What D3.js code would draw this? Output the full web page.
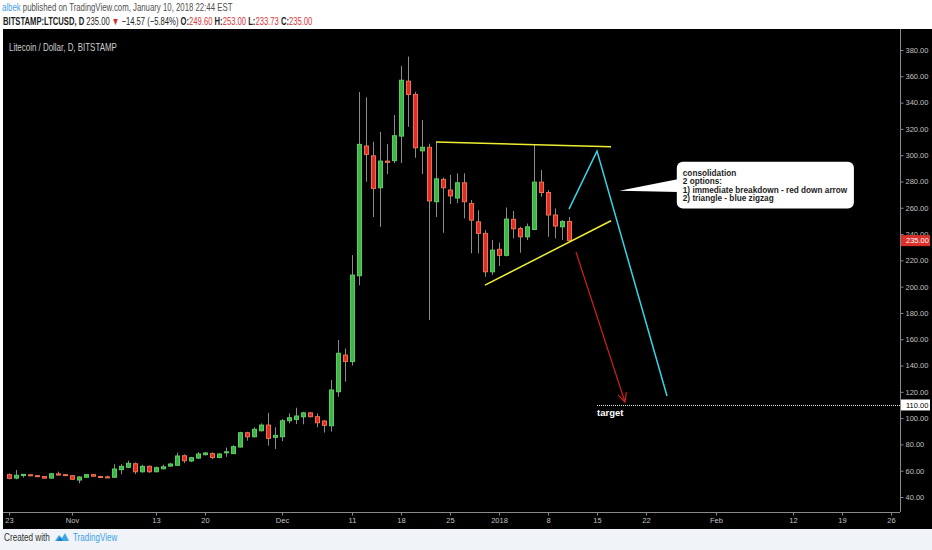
<!DOCTYPE html>
<html>
<head>
<meta charset="utf-8">
<script src="https://cdn.jsdelivr.net/npm/d3@7"></script>
<style>
body { margin: 0; background: #fff; }
svg { display: block; font-family: "Liberation Sans", Arial, sans-serif; }
</style>
</head>
<body>
<svg id="chart"></svg>
<script>
// daily candles, first one is 2017-10-23 (UTC days)
const startDate = "2017-10-23";
const opens = [
	57.0, 54.4, 56.3, 56.9, 56.2, 55.6, 54.4, 57.6, 57.0, 56.2,
	52.9, 55.0, 57.0, 55.6, 55.3, 55.0, 60.8, 62.6, 65.3, 59.2,
	63.3, 59.2, 61.5, 63.5, 64.1, 71.4, 67.4, 69.6, 72.2, 73.0,
	70.0, 73.6, 73.0, 78.0, 88.9, 85.8, 90.4, 94.7, 85.4, 85.8,
	98.0, 99.0, 101.0, 104.0, 101.1, 97.8, 94.2, 120.1, 148.0, 143.0,
	208.3, 307.0, 299.5, 275.2, 295.5, 295.8, 314.5, 356.3, 346.2, 303.3,
	306.0, 264.6, 281.6, 273.5, 267.4, 279.0, 263.3, 249.3, 240.5, 211.3,
	228.4, 223.8, 251.2, 244.2, 237.9, 243.5, 279.5, 271.6, 254.5, 245.5,
	249.6
];
const highs = [
	58.0, 60.5, 57.6, 57.2, 56.6, 56.0, 58.2, 59.3, 57.4, 56.6,
	56.0, 57.5, 57.4, 55.9, 56.3, 65.0, 65.0, 67.6, 66.2, 64.5,
	64.0, 63.2, 64.6, 66.0, 73.7, 72.4, 70.5, 74.2, 74.3, 74.0,
	73.4, 77.6, 79.3, 89.6, 89.6, 93.0, 96.0, 104.0, 93.0, 99.3,
	103.6, 107.9, 104.8, 104.6, 103.6, 98.5, 129.0, 159.4, 153.0, 224.0,
	348.0, 344.0, 310.2, 317.8, 308.4, 330.5, 368.0, 375.0, 348.2, 326.7,
	308.7, 310.0, 283.0, 285.0, 286.2, 286.2, 265.9, 258.2, 243.0, 235.4,
	233.4, 260.2, 257.5, 245.5, 248.0, 307.7, 288.7, 273.5, 259.5, 250.6,
	253.0
];
const lows = [
	53.5, 53.5, 54.8, 55.9, 55.3, 54.0, 54.0, 56.4, 56.0, 53.2,
	50.4, 54.6, 55.4, 54.7, 54.5, 54.8, 57.3, 62.0, 57.4, 58.5,
	58.4, 58.8, 61.0, 63.0, 63.8, 65.8, 66.5, 69.0, 71.5, 68.8,
	69.5, 70.6, 72.6, 77.8, 82.8, 85.3, 89.8, 79.0, 76.5, 82.5,
	96.0, 95.5, 95.3, 100.5, 93.0, 89.0, 89.7, 116.3, 127.7, 140.0,
	201.0, 279.8, 253.0, 245.5, 285.5, 294.0, 294.0, 321.6, 298.0, 285.6,
	174.6, 253.0, 241.0, 262.8, 263.6, 251.9, 225.4, 225.4, 207.5, 208.8,
	215.7, 223.0, 236.7, 225.8, 235.4, 243.0, 268.4, 237.9, 236.7, 235.4,
	233.73
];
const closes = [
	54.2, 56.5, 57.2, 56.2, 55.6, 54.3, 57.7, 56.7, 56.3, 53.5,
	55.2, 57.0, 55.8, 55.0, 54.9, 61.3, 63.3, 65.6, 59.2, 63.3,
	59.2, 62.3, 63.0, 65.1, 71.2, 67.6, 69.9, 72.7, 73.5, 70.0,
	72.7, 74.4, 78.3, 88.9, 85.8, 91.5, 94.7, 84.6, 86.9, 98.0,
	100.3, 101.6, 104.0, 101.1, 96.5, 94.5, 121.4, 149.3, 143.0, 208.8,
	308.2, 300.6, 274.7, 295.5, 294.5, 314.8, 357.0, 346.2, 305.6, 306.0,
	265.2, 282.0, 275.2, 269.0, 279.0, 264.6, 250.6, 240.5, 211.3, 227.8,
	223.8, 251.4, 244.0, 237.9, 245.5, 279.5, 271.6, 254.5, 246.1, 249.6,
	235.0
];

const priceTicks = d3.range(40, 381, 20);
const dateTicks = ["2017-10-23", "2017-11-01", "2017-11-13", "2017-11-20", "2017-12-01", "2017-12-11",
	"2017-12-18", "2017-12-25", "2018-01-01", "2018-01-08", "2018-01-15", "2018-01-22",
	"2018-02-01", "2018-02-12", "2018-02-19", "2018-02-26"];
const dateTickLabels = ["23", "Nov", "13", "20", "Dec", "11", "18", "25", "2018", "8", "15", "22", "Feb", "12", "19", "26"];
const dateDomain = ["2017-10-23", "2018-02-26"];
const priceDomain = [40, 380];

const lastPrice = 235.00;
const targetPrice = 110.00;

// drawings: [days after 2018-01-01, price]
const triangleTop = [[-9, 310.0], [16, 306.4]];
const triangleBottom = [[-2, 201.2], [16, 250.1]];
const zigzag = [[10, 259.0], [14, 303.1], [24, 116.8]];
const breakdownArrow = [[11, 226.3], [18, 112.2]];
const targetStartDay = 14;
const calloutBox = [[25.4, 295.0], [50.7, 259.5]];
const calloutTip = [17.2, 273.0];
const calloutBase = [281.8, 271.9];
const calloutLines = ["consolidation", "2 options:", "1) immediate breakdown - red down arrow", "2) triangle - blue zigzag"];

const parseDate = d3.utcParse("%Y-%m-%d");

// squeeze a text element horizontally so it takes the given width
function fitWidth(sel, x0, width) {
	const w = sel.node().getBBox().width;
	sel.attr("transform", `translate(${x0},0) scale(${width / w},1) translate(${-x0},0)`);
}

class CandleChart {
	constructor(_config) {
		this.config = {
			parentElement: _config.parentElement,
			containerWidth: _config.width,
			containerHeight: _config.height,
			plot: { left: 3, top: 29, right: 900, bottom: 512, axisBottom: 529 }
		};
		this.initVis();
	}

	initVis() {
		let vis = this;
		const p = vis.config.plot;

		vis.svg = d3.select(vis.config.parentElement)
			.attr("width", vis.config.containerWidth)
			.attr("height", vis.config.containerHeight);

		// black chart panel incl. axes
		vis.svg.append("rect")
			.attr("x", p.left).attr("y", p.top)
			.attr("width", vis.config.containerWidth - p.left)
			.attr("height", p.axisBottom - p.top)
			.attr("fill", "#000");

		vis.xScale = d3.scaleUtc()
			.domain(dateDomain.map(parseDate))
			.range([9, 891]);
		vis.yScale = d3.scaleLinear()
			.domain(priceDomain)
			.range([497, 50]);

		vis.jan1 = parseDate("2018-01-01");
		vis.dayX = n => vis.xScale(new Date(vis.jan1.getTime() + n * 864e5));

		vis.chartArea = vis.svg.append("g");
		vis.drawings = vis.svg.append("g");
		vis.axes = vis.svg.append("g");

		vis.updateVis();
	}

	updateVis() {
		let vis = this;
		const start = parseDate(startDate);
		vis.data = opens.map((o, i) => ({
			date: d3.utcDay.offset(start, i),
			open: o, high: highs[i], low: lows[i], close: closes[i]
		}));
		vis.renderVis();
	}

	renderVis() {
		let vis = this;
		const x = vis.xScale, y = vis.yScale, p = vis.config.plot;
		const up = d => d.close >= d.open;

		// candles
		const candle = vis.chartArea.selectAll(".candle")
			.data(vis.data)
			.join("g")
			.attr("class", "candle");

		candle.append("line")
			.attr("x1", d => x(d.date) + 0.5).attr("x2", d => x(d.date) + 0.5)
			.attr("y1", d => y(d.high)).attr("y2", d => y(d.low))
			.attr("stroke", "#8b8b8b")
			.attr("stroke-width", 1);

		candle.append("rect")
			.attr("x", d => x(d.date) - 1.5)
			.attr("y", d => y(Math.max(d.open, d.close)))
			.attr("width", 4)
			.attr("height", d => Math.max(1, Math.abs(y(d.open) - y(d.close))))
			.attr("fill", d => up(d) ? "#3fb24a" : "#de2d26")
			.attr("stroke", d => up(d) ? "#59cf5c" : "#f0704a")
			.attr("stroke-width", 1);

		// legend
		const legend = vis.svg.append("text")
			.attr("x", 9).attr("y", 51)
			.attr("font-size", 10.5)
			.attr("fill", "#cfcfcf")
			.text("Litecoin / Dollar, D, BITSTAMP");
		fitWidth(legend, 9, 108);

		// triangle drawn by hand
		const line = d3.line().x(d => vis.dayX(d[0])).y(d => y(d[1]));
		[triangleTop, triangleBottom].forEach(seg => {
			vis.drawings.append("path")
				.attr("d", line(seg))
				.attr("fill", "none")
				.attr("stroke", "#eeee33")
				.attr("stroke-width", 1.5);
		});

		vis.drawings.append("path")
			.attr("d", line(zigzag))
			.attr("fill", "none")
			.attr("stroke", "#38d3e3")
			.attr("stroke-width", 1.5);

		// red arrow with head
		const a0 = [vis.dayX(breakdownArrow[0][0]), y(breakdownArrow[0][1])];
		const a1 = [vis.dayX(breakdownArrow[1][0]), y(breakdownArrow[1][1])];
		const ang = Math.atan2(a1[1] - a0[1], a1[0] - a0[0]);
		const head = [ang + Math.PI - 0.45, ang + Math.PI + 0.45]
			.map(t => [a1[0] + 10 * Math.cos(t), a1[1] + 10 * Math.sin(t)]);
		vis.drawings.append("path")
			.attr("d", `M${a0}L${a1}M${head[0]}L${a1}L${head[1]}`)
			.attr("fill", "none")
			.attr("stroke", "#d61f1f")
			.attr("stroke-width", 1.2);

		// target level
		vis.drawings.append("line")
			.attr("x1", vis.dayX(targetStartDay)).attr("x2", p.right)
			.attr("y1", y(targetPrice) + 0.5).attr("y2", y(targetPrice) + 0.5)
			.attr("stroke", "#e6e6e6")
			.attr("stroke-dasharray", "1,1");
		vis.drawings.append("text")
			.attr("x", vis.dayX(targetStartDay))
			.attr("y", y(targetPrice) + 11)
			.attr("font-size", 9.5)
			.attr("font-weight", "bold")
			.attr("fill", "#fff")
			.text("target");

		// callout
		const bx0 = vis.dayX(calloutBox[0][0]), bx1 = vis.dayX(calloutBox[1][0]);
		const by0 = y(calloutBox[0][1]), by1 = y(calloutBox[1][1]);
		vis.drawings.append("rect")
			.attr("x", bx0).attr("y", by0)
			.attr("width", bx1 - bx0).attr("height", by1 - by0)
			.attr("rx", 6)
			.attr("fill", "#fff");
		vis.drawings.append("path")
			.attr("d", `M${bx0 + 2},${y(calloutBase[0])}L${vis.dayX(calloutTip[0])},${y(calloutTip[1])}L${bx0 + 2},${y(calloutBase[1])}Z`)
			.attr("fill", "#fff");
		const callText = vis.drawings.append("text")
			.attr("font-size", 8.2)
			.attr("font-weight", "bold")
			.attr("fill", "#1c1c1c");
		callText.selectAll("tspan")
			.data(calloutLines)
			.join("tspan")
			.attr("x", bx0 + 6)
			.attr("y", (d, i) => by0 + 14.5 + i * 8.2)
			.text(d => d);
		fitWidth(callText, bx0 + 6, 165);

		// frame lines
		vis.axes.append("line")
			.attr("x1", p.right + 0.5).attr("x2", p.right + 0.5)
			.attr("y1", p.top).attr("y2", p.bottom)
			.attr("stroke", "#8a8a8a");
		vis.axes.append("line")
			.attr("x1", p.left).attr("x2", p.right)
			.attr("y1", p.bottom + 0.5).attr("y2", p.bottom + 0.5)
			.attr("stroke", "#8a8a8a");

		// price axis
		const yAxisG = vis.axes.append("g")
			.attr("transform", `translate(${p.right + 0.5},0)`)
			.call(d3.axisRight(y).tickValues(priceTicks).tickSize(3).tickPadding(2)
				.tickFormat(d => d.toFixed(2)));
		// time axis
		const xAxisG = vis.axes.append("g")
			.attr("transform", `translate(0,${p.bottom + 0.5})`)
			.call(d3.axisBottom(x).tickValues(dateTicks.map(parseDate)).tickSize(3).tickPadding(2)
				.tickFormat((d, i) => dateTickLabels[i]));
		[yAxisG, xAxisG].forEach(g => {
			g.select(".domain").remove();
			g.selectAll(".tick line").attr("stroke", "#8a8a8a");
			g.selectAll(".tick text")
				.attr("fill", "#c2c2c2")
				.attr("font-size", 7.5)
				.attr("font-family", "Liberation Sans, Arial, sans-serif");
		});

		// price labels on the scale
		const tags = [
			{ v: lastPrice, bg: "#dc302a", fg: "#fff" },
			{ v: targetPrice, bg: "#fff", fg: "#000" }
		];
		const tag = vis.axes.selectAll(".tag")
			.data(tags)
			.join("g")
			.attr("class", "tag")
			.attr("transform", d => `translate(${p.right + 1},${y(d.v)})`);
		tag.append("rect")
			.attr("x", 0).attr("y", -5.5)
			.attr("width", 29).attr("height", 11)
			.attr("fill", d => d.bg);
		tag.append("text")
			.attr("x", 5).attr("dy", "0.34em")
			.attr("font-size", 7.5)
			.attr("fill", d => d.fg)
			.text(d => d.v.toFixed(2));
	}
}

function drawHeader(svg) {
	const l1 = svg.append("text")
		.attr("x", 2).attr("y", 11)
		.attr("font-size", 10.5)
		.attr("fill", "#505050");
	l1.append("tspan").attr("fill", "#3f9de6").text("albek");
	l1.append("tspan").text(" published on TradingView.com, January 10, 2018 22:44 EST");
	fitWidth(l1, 2, 231);

	const parts = [
		["BITSTAMP:LTCUSD, D", "#222", "bold"],
		[" 235.00 ", "#222", "normal"],
		["▼", "#d62c2c", "normal"],
		[" \u221214.57 (\u22125.84%) ", "#222", "normal"],
		["O:", "#222", "bold"], ["249.60", "#d93535", "normal"],
		[" H:", "#222", "bold"], ["253.00", "#d93535", "normal"],
		[" L:", "#222", "bold"], ["233.73", "#d93535", "normal"],
		[" C:", "#222", "bold"], ["235.00", "#d93535", "normal"]
	];
	const l2 = svg.append("text")
		.attr("x", 3).attr("y", 25.5)
		.attr("font-size", 10.5);
	l2.selectAll("tspan")
		.data(parts)
		.join("tspan")
		.attr("fill", d => d[1])
		.attr("font-weight", d => d[2])
		.text(d => d[0]);
	fitWidth(l2, 3, 310);
}

function drawFooter(svg) {
	svg.append("rect")
		.attr("x", 0).attr("y", 529)
		.attr("width", 932).attr("height", 21)
		.attr("fill", "#f0f3f8");
	const c = svg.append("text")
		.attr("x", 4).attr("y", 541.5)
		.attr("font-size", 10)
		.attr("fill", "#333")
		.text("Created with");
	fitWidth(c, 4, 46);
	// little cloud logo
	svg.append("path")
		.attr("d", "M55,541 L59,535 L62,538 L65,533 L69,541 Z")
		.attr("fill", "#3ea7e6");
	svg.append("path")
		.attr("d", "M57,541 L60,537 L63,541 Z")
		.attr("fill", "#1c7fc4");
	const t = svg.append("text")
		.attr("x", 73).attr("y", 541.5)
		.attr("font-size", 10)
		.attr("fill", "#3e9fe6")
		.text("TradingView");
	fitWidth(t, 73, 45);
}

const svg = d3.select("#chart").attr("width", 932).attr("height", 550);
new CandleChart({ parentElement: "#chart", width: 932, height: 550 });
drawHeader(svg);
drawFooter(svg);
</script>
</body>
</html>
